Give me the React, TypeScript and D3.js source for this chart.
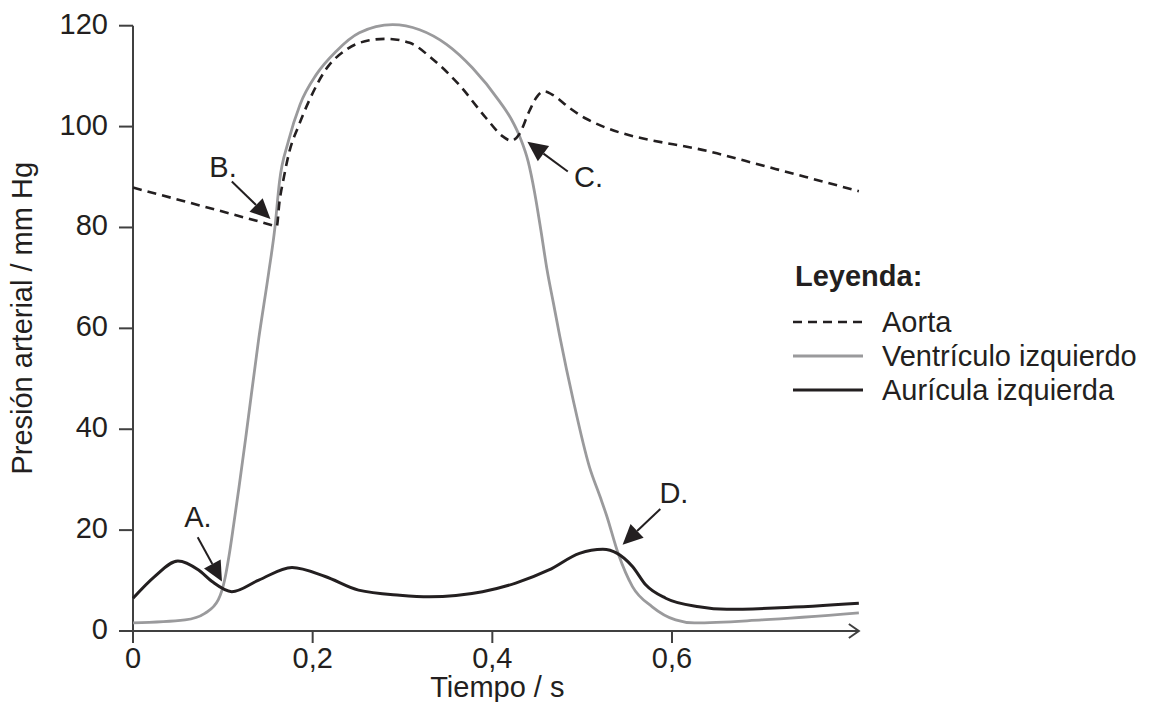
import React from 'react';
import * as d3 from 'd3';

// time in s, pressure in mm Hg
const aortaPoints: [number, number][] = [
    [0, 87.9], [0.08, 84.1], [0.156, 80.4], [0.16, 80.2], [0.163, 85], [0.168, 90],
    [0.174, 95], [0.184, 100], [0.197, 105.5], [0.215, 111.4], [0.237, 115.2],
    [0.263, 117.1], [0.282, 117.4], [0.308, 116.6], [0.334, 113.3], [0.363, 108.3],
    [0.393, 101.7], [0.412, 98], [0.421, 97.2], [0.43, 98.5], [0.441, 103],
    [0.45, 106], [0.458, 107], [0.467, 106.3], [0.486, 103.7], [0.504, 101.6],
    [0.65, 94.7], [0.808, 87.2]
];

const ventriclePoints: [number, number][] = [
    [0, 1.6], [0.058, 2.2], [0.08, 3.5], [0.095, 6.2], [0.102, 10.1], [0.107, 15],
    [0.112, 21], [0.118, 28.5], [0.126, 39], [0.14, 58], [0.151, 71], [0.158, 80],
    [0.163, 89], [0.173, 97.1], [0.186, 104.4], [0.204, 110.3], [0.226, 114.9],
    [0.252, 118.6], [0.289, 120.2], [0.319, 119.2], [0.349, 116.3], [0.378, 111.6],
    [0.408, 105], [0.421, 101.5], [0.431, 97.8], [0.44, 93], [0.447, 87],
    [0.454, 79.5], [0.461, 71.5], [0.468, 65], [0.475, 58.5], [0.49, 45.8],
    [0.508, 32.6], [0.52, 26.6], [0.527, 23], [0.54, 15.4], [0.556, 8.8],
    [0.578, 4.8], [0.604, 2.2], [0.625, 1.6], [0.7, 2.2], [0.808, 3.6]
];

const atriumPoints: [number, number][] = [
    [0, 6.5], [0.024, 10.8], [0.05, 13.9], [0.073, 12.1], [0.088, 9.8], [0.11, 7.8],
    [0.14, 10.1], [0.177, 12.6], [0.214, 10.8], [0.251, 8.1], [0.297, 7.1], [0.33, 6.8],
    [0.389, 7.8], [0.426, 9.5], [0.463, 12.1], [0.497, 15.4], [0.523, 16.2],
    [0.539, 15.4], [0.556, 12.8], [0.571, 9.1], [0.593, 6.5], [0.63, 4.8],
    [0.661, 4.3], [0.72, 4.6], [0.808, 5.5]
];

const yTicks = [0, 20, 40, 60, 80, 100, 120];
const xTicks = [0, 0.2, 0.4, 0.6];
const xTickLabels = ['0', '0,2', '0,4', '0,6'];

// label anchor, arrow start, arrow tip (data units)
const markers = [
    { label: 'A.', at: [0.057, 20.6], from: [0.072, 18.6], to: [0.099, 9.8] },
    { label: 'B.', at: [0.085, 90.1], from: [0.11, 89.1], to: [0.153, 81.7] },
    { label: 'C.', at: [0.491, 88.1], from: [0.484, 91.1], to: [0.439, 97.0] },
    { label: 'D.', at: [0.586, 25.4], from: [0.587, 24.2], to: [0.545, 17.1] }
];

const legendItems = [
    { name: 'Aorta', color: '#231f20', dash: '9,6' },
    { name: 'Ventrículo izquierdo', color: '#9a9a9c', dash: undefined },
    { name: 'Aurícula izquierda', color: '#231f20', dash: undefined }
];

const W = 1151;
const H = 702;
const font = '"Liberation Sans", Arial, sans-serif';
const fs = 29;
const ink = '#231f20';
const axisColor = '#404040';

export default function App() {
    const x = d3.scaleLinear().domain([0, 0.6]).range([133, 672]);
    const y = d3.scaleLinear().domain([0, 120]).range([631, 25.7]);
    const xEnd = x(0.808);

    const line = d3.line<[number, number]>()
        .curve(d3.curveMonotoneX)
        .x((d) => x(d[0]))
        .y((d) => y(d[1]));

    function arrow(from: number[], to: number[]) {
        const x1 = x(from[0]), y1 = y(from[1]);
        const x2 = x(to[0]), y2 = y(to[1]);
        const ang = Math.atan2(y2 - y1, x2 - x1);
        const len = 20, half = 9.5;
        const bx = x2 - len * Math.cos(ang), by = y2 - len * Math.sin(ang);
        const px = -Math.sin(ang) * half, py = Math.cos(ang) * half;
        return (
            <g>
                <line x1={x1} y1={y1} x2={bx} y2={by} stroke={ink} strokeWidth={2} />
                <polygon points={`${x2},${y2} ${bx + px},${by + py} ${bx - px},${by - py}`} fill={ink} />
            </g>
        );
    }

    return (
        <svg width={W} height={H} style={{ position: 'absolute', left: 0, top: 0, background: '#fff' }}
            fontFamily={font} fill={ink}>
            {/* y axis */}
            <line x1={x(0)} y1={y(120)} x2={x(0)} y2={y(0) + 12} stroke={axisColor} strokeWidth={2} />
            {yTicks.map((t) => (
                <g key={t}>
                    <line x1={x(0) - 14} x2={x(0)} y1={y(t)} y2={y(t)} stroke={axisColor} strokeWidth={2} />
                    <text x={x(0) - 25} y={y(t) + 8} fontSize={fs} textAnchor="end">{t}</text>
                </g>
            ))}
            {/* x axis */}
            <line x1={x(0) - 14} y1={y(0)} x2={xEnd} y2={y(0)} stroke={axisColor} strokeWidth={2} />
            <polyline points={`${xEnd - 10},${y(0) - 7} ${xEnd},${y(0)} ${xEnd - 10},${y(0) + 7}`}
                fill="none" stroke={axisColor} strokeWidth={2} />
            {xTicks.map((t, i) => (
                <g key={t}>
                    <line x1={x(t)} x2={x(t)} y1={y(0)} y2={y(0) + 12} stroke={axisColor} strokeWidth={2} />
                    <text x={x(t)} y={y(0) + 37} fontSize={fs} textAnchor="middle">{xTickLabels[i]}</text>
                </g>
            ))}
            <text x={x(0.4) + 5} y={697} fontSize={fs} textAnchor="middle">Tiempo / s</text>
            <text transform={`translate(32, ${y(62)}) rotate(-90)`} fontSize={fs} textAnchor="middle">
                Presión arterial / mm Hg
            </text>

            {/* curves */}
            <path d={line(ventriclePoints) ?? ''} fill="none" stroke="#9a9a9c" strokeWidth={2.8} />
            <path d={line(aortaPoints) ?? ''} fill="none" stroke={ink} strokeWidth={2.6} strokeDasharray="9,6" />
            <path d={line(atriumPoints) ?? ''} fill="none" stroke={ink} strokeWidth={3} />

            {/* markers */}
            {markers.map((m) => (
                <g key={m.label}>
                    <text x={x(m.at[0])} y={y(m.at[1])} fontSize={fs}>{m.label}</text>
                    {arrow(m.from, m.to)}
                </g>
            ))}

            {/* legend */}
            <text x={795} y={286} fontSize={fs} fontWeight="bold">Leyenda:</text>
            {legendItems.map((item, i) => (
                <g key={item.name}>
                    <line x1={793} x2={863} y1={322 + i * 34} y2={322 + i * 34} stroke={item.color}
                        strokeWidth={item.dash ? 2.6 : 3} strokeDasharray={item.dash} />
                    <text x={882} y={332 + i * 34} fontSize={fs}>{item.name}</text>
                </g>
            ))}
        </svg>
    );
}
